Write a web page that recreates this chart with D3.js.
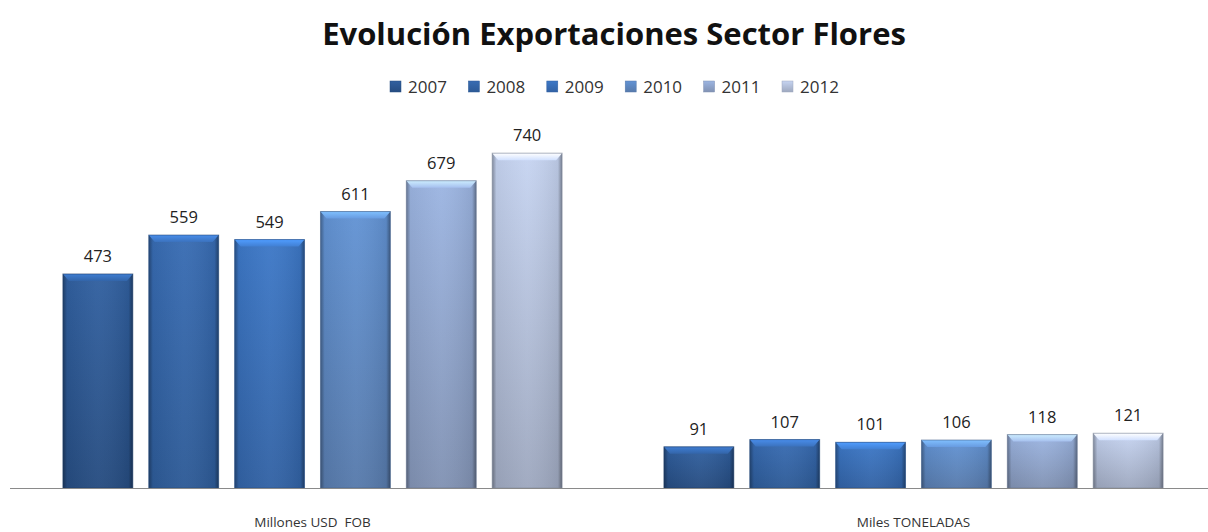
<!DOCTYPE html>
<html>
<head>
<meta charset="utf-8">
<script src="https://cdn.jsdelivr.net/npm/d3@7"></script>
<style>
  body { margin: 0; background: #fff; }
  text { font-family: "Open Sans", "DejaVu Sans", sans-serif; fill: #222; }
</style>
</head>
<body>
<div id="chart"></div>
<script>
// Flower sector exports, per year
const years = ["2007", "2008", "2009", "2010", "2011", "2012"];
const categories = ["Millones USD  FOB", "Miles TONELADAS"];
const millonesUsd = [473, 559, 549, 611, 679, 740];
const milesToneladas = [91, 107, 101, 106, 118, 121];

// colours per year: main, bottom
const mainColors = ["#2e5b98", "#3566aa", "#3a72bd", "#5d8bc9", "#94acd6", "#bcc9e4"];
const bottomColors = ["#264c80", "#2d5a96", "#3262a4", "#577aab", "#8192b3", "#9ea8bf"];

const series = [millonesUsd, milesToneladas];
const table = [];
categories.forEach((c, ci) => {
    years.forEach((y, yi) => table.push({ cat: c, year: y, yi: yi, value: series[ci][yi] }));
});

const W = 1208, H = 532;
const baseY = 488;

const svg = d3.select("#chart")
    .append("svg")
    .attr("width", W)
    .attr("height", H);

const defs = svg.append("defs");

years.forEach((y, i) => {
    const g = defs.append("linearGradient")
        .attr("id", "grad" + i)
        .attr("x1", 0).attr("y1", 0).attr("x2", 0).attr("y2", 1);
    g.append("stop").attr("offset", "0%").attr("stop-color", d3.color(mainColors[i]).brighter(0.15));
    g.append("stop").attr("offset", "100%").attr("stop-color", bottomColors[i]);

    const b = defs.append("linearGradient")
        .attr("id", "bevel" + i)
        .attr("x1", 0).attr("y1", 0).attr("x2", 0).attr("y2", 1);
    b.append("stop").attr("offset", "0%").attr("stop-color", d3.color(mainColors[i]).brighter(0.9));
    b.append("stop").attr("offset", "100%").attr("stop-color", d3.color(mainColors[i]).brighter(0.3));
});

// side shading
const side = defs.append("linearGradient")
    .attr("id", "side")
    .attr("x1", 0).attr("y1", 0).attr("x2", 1).attr("y2", 0);
side.append("stop").attr("offset", "0%").attr("stop-color", "#000").attr("stop-opacity", 0.35);
side.append("stop").attr("offset", "6%").attr("stop-color", "#000").attr("stop-opacity", 0.05);
side.append("stop").attr("offset", "50%").attr("stop-color", "#fff").attr("stop-opacity", 0.04);
side.append("stop").attr("offset", "94%").attr("stop-color", "#000").attr("stop-opacity", 0.08);
side.append("stop").attr("offset", "100%").attr("stop-color", "#000").attr("stop-opacity", 0.4);

// scales
const x0 = d3.scaleBand()
    .domain(categories)
    .range([12, 1214])
    .padding(0);

const x1 = d3.scaleBand()
    .domain(years)
    .range([0, x0.bandwidth()])
    .paddingInner(0.186)
    .paddingOuter(0.593);

const y = d3.scaleLinear()
    .domain([0, 800])
    .range([baseY, 126]);

// title
svg.append("text")
    .attr("x", 614)
    .attr("y", 45)
    .attr("text-anchor", "middle")
    .style("font-size", "31px")
    .style("font-weight", "bold")
    .style("fill", "#111")
    .text("Evolución Exportaciones Sector Flores");

// legend
const legend = svg.append("g")
    .attr("transform", "translate(390,81)");

const item = legend.selectAll("g")
    .data(years)
    .enter()
    .append("g")
    .attr("transform", (d, i) => `translate(${i * 78.4},0)`);

item.append("rect")
    .attr("width", 11)
    .attr("height", 11)
    .attr("fill", (d, i) => `url(#grad${i})`)
    .attr("stroke", (d, i) => bottomColors[i])
    .attr("stroke-width", 0.5);

item.append("text")
    .attr("x", 18)
    .attr("y", 12)
    .style("font-size", "17px")
    .style("fill", "#333")
    .text(d => d);

// bars
const bars = svg.selectAll(".bar")
    .data(table)
    .enter()
    .append("g")
    .attr("class", "bar")
    .attr("transform", d => `translate(${x0(d.cat) + x1(d.year)},0)`);

bars.append("rect")
    .attr("y", d => y(d.value))
    .attr("width", x1.bandwidth())
    .attr("height", d => baseY - y(d.value))
    .attr("fill", d => `url(#grad${d.yi})`);

bars.append("rect")
    .attr("y", d => y(d.value))
    .attr("width", x1.bandwidth())
    .attr("height", d => baseY - y(d.value))
    .attr("fill", "url(#side)");

// top bevel
bars.append("path")
    .attr("d", d => {
        const t = y(d.value), w = x1.bandwidth();
        return `M0,${t} L${w},${t} L${w - 6},${t + 7} L6,${t + 7} Z`;
    })
    .attr("fill", d => `url(#bevel${d.yi})`);

bars.append("rect")
    .attr("y", d => y(d.value))
    .attr("width", x1.bandwidth())
    .attr("height", d => baseY - y(d.value))
    .attr("fill", "none")
    .attr("stroke", d => d3.color(bottomColors[d.yi]).darker(0.6))
    .attr("stroke-opacity", 0.6)
    .attr("stroke-width", 1);

// value labels
bars.append("text")
    .attr("x", x1.bandwidth() / 2)
    .attr("y", d => y(d.value) - 12)
    .attr("text-anchor", "middle")
    .style("font-size", "16.5px")
    .style("fill", "#222")
    .text(d => d.value);

// baseline axis
svg.append("line")
    .attr("x1", 10)
    .attr("x2", W)
    .attr("y1", baseY + 0.5)
    .attr("y2", baseY + 0.5)
    .attr("stroke", "#8a8a8a")
    .attr("stroke-width", 1.2);

// category labels
svg.selectAll(".cat")
    .data(categories)
    .enter()
    .append("text")
    .attr("class", "cat")
    .attr("x", d => x0(d) + x0.bandwidth() / 2)
    .attr("y", 527)
    .attr("text-anchor", "middle")
    .style("font-size", "13.5px")
    .style("fill", "#333")
    .style("white-space", "pre")
    .text(d => d);
</script>
</body>
</html>
